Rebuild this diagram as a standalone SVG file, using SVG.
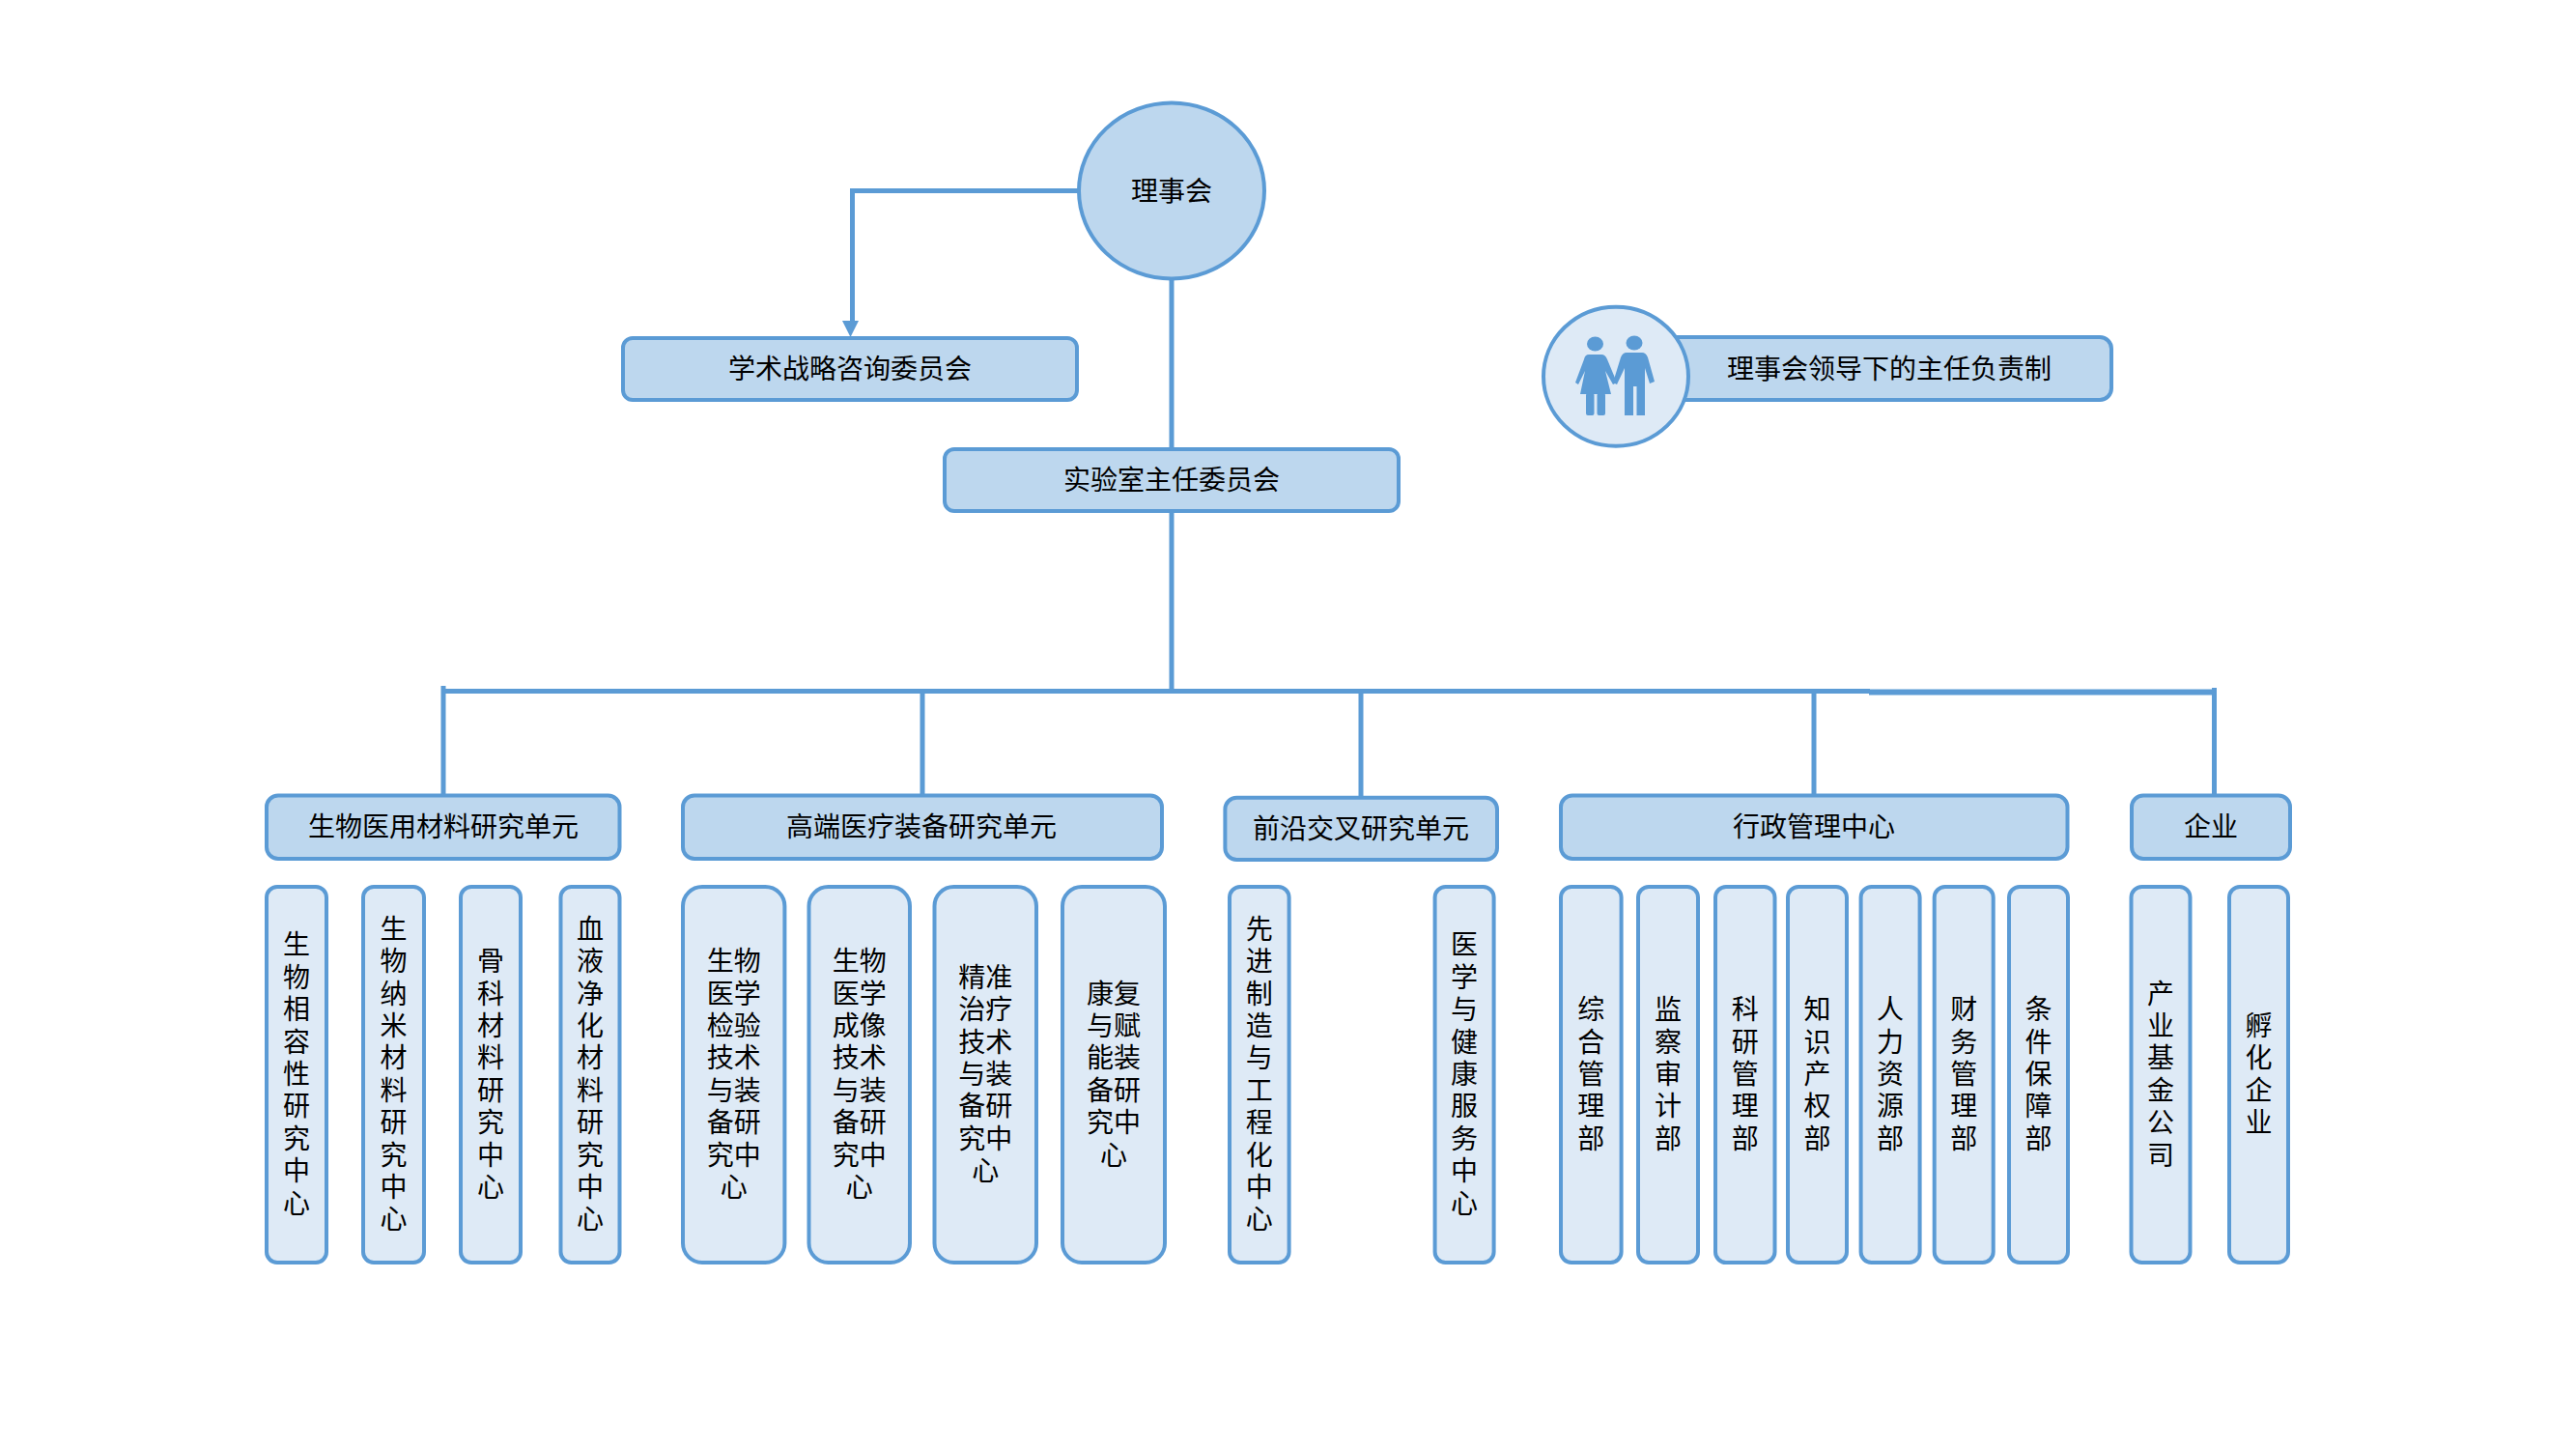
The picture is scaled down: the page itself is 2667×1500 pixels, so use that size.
<svg xmlns="http://www.w3.org/2000/svg" width="2667" height="1500" viewBox="0 0 2667 1500">
<style>
text{font-family:"Noto Sans CJK SC","Noto Sans",sans-serif;font-size:28px;fill:#000;text-anchor:middle}
.d{fill:#BDD7EE;stroke:#5B9BD5;stroke-width:4}
.l{fill:#DEEAF6;stroke:#5B9BD5;stroke-width:4}
.c{fill:none;stroke:#5B9BD5;stroke-width:5}
.p{fill:#5B9BD5;stroke:none}
</style>
<rect width="2667" height="1500" fill="#fff"/>
<g id="connectors">
<path class="c" d="M1116 197.500000H882.500000V336"/>
<path d="M872 332H889L880.500000 349Z" fill="#5B9BD5"/>
<path class="c" d="M1213 290V465M1213 529V716"/>
<path class="c" d="M459 710V824M459 715.500000H1936"/>
<path class="c" d="M955 716V824M1409 716V826M1878 716V824"/>
<path class="c" style="stroke-width:6" d="M1935 716.500000H2293"/>
<path class="c" d="M2292.500000 712V824"/>
</g>
<g id="n-council"><ellipse class="d" cx="1213" cy="197.500000" rx="96" ry="91"/><text x="1213" y="208">理事会</text></g>
<g id="n-academic"><rect class="d" x="645" y="350" width="470" height="64" rx="10"/><text x="880" y="392">学术战略咨询委员会</text></g>
<g id="n-directors"><rect class="d" x="978" y="465" width="470" height="64" rx="10"/><text x="1213" y="507">实验室主任委员会</text></g>
<g id="n-system"><rect class="d" x="1700" y="349" width="486" height="65" rx="12"/><ellipse class="l" cx="1673" cy="389.700000" rx="75" ry="72"/>
<g id="people"><ellipse class="p" cx="1651.500000" cy="356" rx="8.500000" ry="7.500000"/><path class="p" d="M1645 367H1658Q1662 367 1664 372L1674 396L1670 398L1662 384L1668 408H1636L1641 384L1634 398L1631 396L1640 372Q1641 367 1645 367Z"/><rect class="p" x="1642" y="407" width="8.500000" height="23" rx="2"/><rect class="p" x="1653.500000" y="407" width="8.500000" height="23" rx="2"/>
<ellipse class="p" cx="1692" cy="355" rx="8.500000" ry="7.500000"/><path class="p" d="M1684 365H1700Q1704 365 1706 370L1713 395L1708 397L1703 381V430H1694.500000V400H1691V430H1682V381L1674 398L1670 396L1678 370Q1680 365 1684 365Z"/></g>
<text x="1956" y="392">理事会领导下的主任负责制</text></g>
<g id="n-u1"><rect class="d" x="276" y="823.500000" width="365.500000" height="65.500000" rx="12"/><text x="459" y="866">生物医用材料研究单元</text></g>
<g id="n-u2"><rect class="d" x="707" y="823.500000" width="496" height="65.500000" rx="12"/><text x="954" y="866">高端医疗装备研究单元</text></g>
<g id="n-u3"><rect class="d" x="1268.400000" y="825.700000" width="281.600000" height="64.300000" rx="12"/><text x="1409" y="868">前沿交叉研究单元</text></g>
<g id="n-u4"><rect class="d" x="1616" y="823.500000" width="524.500000" height="65.500000" rx="12"/><text x="1878" y="866">行政管理中心</text></g>
<g id="n-u5"><rect class="d" x="2207" y="823.500000" width="164" height="65.500000" rx="12"/><text x="2289" y="866">企业</text></g>
<g id="n-c1"><rect class="l" x="276" y="918" width="62" height="389" rx="11"/><text x="307" y="988.400000"><tspan x="307">生</tspan><tspan x="307" dy="33.4">物</tspan><tspan x="307" dy="33.4">相</tspan><tspan x="307" dy="33.4">容</tspan><tspan x="307" dy="33.4">性</tspan><tspan x="307" dy="33.4">研</tspan><tspan x="307" dy="33.4">究</tspan><tspan x="307" dy="33.4">中</tspan><tspan x="307" dy="33.4">心</tspan></text></g>
<g id="n-c2"><rect class="l" x="376" y="918" width="63" height="389" rx="11"/><text x="407.500000" y="971.700000"><tspan x="407.500000">生</tspan><tspan x="407.500000" dy="33.4">物</tspan><tspan x="407.500000" dy="33.4">纳</tspan><tspan x="407.500000" dy="33.4">米</tspan><tspan x="407.500000" dy="33.4">材</tspan><tspan x="407.500000" dy="33.4">料</tspan><tspan x="407.500000" dy="33.4">研</tspan><tspan x="407.500000" dy="33.4">究</tspan><tspan x="407.500000" dy="33.4">中</tspan><tspan x="407.500000" dy="33.4">心</tspan></text></g>
<g id="n-c3"><rect class="l" x="477" y="918" width="62" height="389" rx="11"/><text x="508" y="1005.100000"><tspan x="508">骨</tspan><tspan x="508" dy="33.4">科</tspan><tspan x="508" dy="33.4">材</tspan><tspan x="508" dy="33.4">料</tspan><tspan x="508" dy="33.4">研</tspan><tspan x="508" dy="33.4">究</tspan><tspan x="508" dy="33.4">中</tspan><tspan x="508" dy="33.4">心</tspan></text></g>
<g id="n-c4"><rect class="l" x="580.500000" y="918" width="61" height="389" rx="11"/><text x="611" y="971.700000"><tspan x="611">血</tspan><tspan x="611" dy="33.4">液</tspan><tspan x="611" dy="33.4">净</tspan><tspan x="611" dy="33.4">化</tspan><tspan x="611" dy="33.4">材</tspan><tspan x="611" dy="33.4">料</tspan><tspan x="611" dy="33.4">研</tspan><tspan x="611" dy="33.4">究</tspan><tspan x="611" dy="33.4">中</tspan><tspan x="611" dy="33.4">心</tspan></text></g>
<g id="n-c5"><rect class="l" x="707" y="918" width="105.400000" height="389" rx="20"/><text x="759.700000" y="1005.100000"><tspan x="759.700000">生物</tspan><tspan x="759.700000" dy="33.4">医学</tspan><tspan x="759.700000" dy="33.4">检验</tspan><tspan x="759.700000" dy="33.4">技术</tspan><tspan x="759.700000" dy="33.4">与装</tspan><tspan x="759.700000" dy="33.4">备研</tspan><tspan x="759.700000" dy="33.4">究中</tspan><tspan x="759.700000" dy="33.4">心</tspan></text></g>
<g id="n-c6"><rect class="l" x="837.500000" y="918" width="104.500000" height="389" rx="20"/><text x="889.750000" y="1005.100000"><tspan x="889.750000">生物</tspan><tspan x="889.750000" dy="33.4">医学</tspan><tspan x="889.750000" dy="33.4">成像</tspan><tspan x="889.750000" dy="33.4">技术</tspan><tspan x="889.750000" dy="33.4">与装</tspan><tspan x="889.750000" dy="33.4">备研</tspan><tspan x="889.750000" dy="33.4">究中</tspan><tspan x="889.750000" dy="33.4">心</tspan></text></g>
<g id="n-c7"><rect class="l" x="967.500000" y="918" width="105.500000" height="389" rx="20"/><text x="1020.250000" y="1021.800000"><tspan x="1020.250000">精准</tspan><tspan x="1020.250000" dy="33.4">治疗</tspan><tspan x="1020.250000" dy="33.4">技术</tspan><tspan x="1020.250000" dy="33.4">与装</tspan><tspan x="1020.250000" dy="33.4">备研</tspan><tspan x="1020.250000" dy="33.4">究中</tspan><tspan x="1020.250000" dy="33.4">心</tspan></text></g>
<g id="n-c8"><rect class="l" x="1100" y="918" width="106" height="389" rx="20"/><text x="1153" y="1038.500000"><tspan x="1153">康复</tspan><tspan x="1153" dy="33.4">与赋</tspan><tspan x="1153" dy="33.4">能装</tspan><tspan x="1153" dy="33.4">备研</tspan><tspan x="1153" dy="33.4">究中</tspan><tspan x="1153" dy="33.4">心</tspan></text></g>
<g id="n-c9"><rect class="l" x="1273" y="918" width="61.600000" height="389" rx="11"/><text x="1303.800000" y="971.700000"><tspan x="1303.800000">先</tspan><tspan x="1303.800000" dy="33.4">进</tspan><tspan x="1303.800000" dy="33.4">制</tspan><tspan x="1303.800000" dy="33.4">造</tspan><tspan x="1303.800000" dy="33.4">与</tspan><tspan x="1303.800000" dy="33.4">工</tspan><tspan x="1303.800000" dy="33.4">程</tspan><tspan x="1303.800000" dy="33.4">化</tspan><tspan x="1303.800000" dy="33.4">中</tspan><tspan x="1303.800000" dy="33.4">心</tspan></text></g>
<g id="n-c10"><rect class="l" x="1485.600000" y="918" width="61" height="389" rx="11"/><text x="1516" y="988.400000"><tspan x="1516">医</tspan><tspan x="1516" dy="33.4">学</tspan><tspan x="1516" dy="33.4">与</tspan><tspan x="1516" dy="33.4">健</tspan><tspan x="1516" dy="33.4">康</tspan><tspan x="1516" dy="33.4">服</tspan><tspan x="1516" dy="33.4">务</tspan><tspan x="1516" dy="33.4">中</tspan><tspan x="1516" dy="33.4">心</tspan></text></g>
<g id="n-d1"><rect class="l" x="1616" y="918" width="62.600000" height="389" rx="11"/><text x="1647.300000" y="1055.200000"><tspan x="1647.300000">综</tspan><tspan x="1647.300000" dy="33.4">合</tspan><tspan x="1647.300000" dy="33.4">管</tspan><tspan x="1647.300000" dy="33.4">理</tspan><tspan x="1647.300000" dy="33.4">部</tspan></text></g>
<g id="n-d2"><rect class="l" x="1696" y="918" width="62" height="389" rx="11"/><text x="1727" y="1055.200000"><tspan x="1727">监</tspan><tspan x="1727" dy="33.4">察</tspan><tspan x="1727" dy="33.4">审</tspan><tspan x="1727" dy="33.4">计</tspan><tspan x="1727" dy="33.4">部</tspan></text></g>
<g id="n-d3"><rect class="l" x="1776" y="918" width="61.500000" height="389" rx="11"/><text x="1806.750000" y="1055.200000"><tspan x="1806.750000">科</tspan><tspan x="1806.750000" dy="33.4">研</tspan><tspan x="1806.750000" dy="33.4">管</tspan><tspan x="1806.750000" dy="33.4">理</tspan><tspan x="1806.750000" dy="33.4">部</tspan></text></g>
<g id="n-d4"><rect class="l" x="1851" y="918" width="61" height="389" rx="11"/><text x="1881.500000" y="1055.200000"><tspan x="1881.500000">知</tspan><tspan x="1881.500000" dy="33.4">识</tspan><tspan x="1881.500000" dy="33.4">产</tspan><tspan x="1881.500000" dy="33.4">权</tspan><tspan x="1881.500000" dy="33.4">部</tspan></text></g>
<g id="n-d5"><rect class="l" x="1926.600000" y="918" width="61" height="389" rx="11"/><text x="1957" y="1055.200000"><tspan x="1957">人</tspan><tspan x="1957" dy="33.4">力</tspan><tspan x="1957" dy="33.4">资</tspan><tspan x="1957" dy="33.4">源</tspan><tspan x="1957" dy="33.4">部</tspan></text></g>
<g id="n-d6"><rect class="l" x="2002.700000" y="918" width="61" height="389" rx="11"/><text x="2033.200000" y="1055.200000"><tspan x="2033.200000">财</tspan><tspan x="2033.200000" dy="33.4">务</tspan><tspan x="2033.200000" dy="33.4">管</tspan><tspan x="2033.200000" dy="33.4">理</tspan><tspan x="2033.200000" dy="33.4">部</tspan></text></g>
<g id="n-d7"><rect class="l" x="2080" y="918" width="61" height="389" rx="11"/><text x="2110.500000" y="1055.200000"><tspan x="2110.500000">条</tspan><tspan x="2110.500000" dy="33.4">件</tspan><tspan x="2110.500000" dy="33.4">保</tspan><tspan x="2110.500000" dy="33.4">障</tspan><tspan x="2110.500000" dy="33.4">部</tspan></text></g>
<g id="n-e1"><rect class="l" x="2206.500000" y="918" width="61" height="389" rx="11"/><text x="2237" y="1038.500000"><tspan x="2237">产</tspan><tspan x="2237" dy="33.4">业</tspan><tspan x="2237" dy="33.4">基</tspan><tspan x="2237" dy="33.4">金</tspan><tspan x="2237" dy="33.4">公</tspan><tspan x="2237" dy="33.4">司</tspan></text></g>
<g id="n-e2"><rect class="l" x="2308" y="918" width="61" height="389" rx="11"/><text x="2338.500000" y="1071.900000"><tspan x="2338.500000">孵</tspan><tspan x="2338.500000" dy="33.4">化</tspan><tspan x="2338.500000" dy="33.4">企</tspan><tspan x="2338.500000" dy="33.4">业</tspan></text></g>
</svg>
